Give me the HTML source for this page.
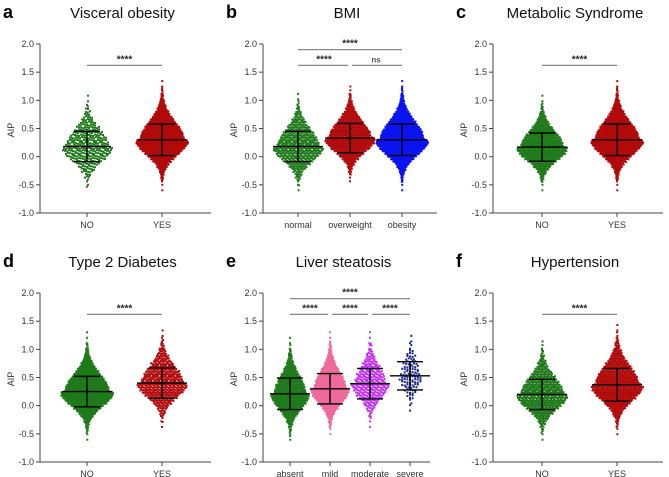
<!DOCTYPE html>
<html><head><meta charset="utf-8"><style>
body{margin:0;background:#fff;}
svg{display:block;font-family:"Liberation Sans",sans-serif;}
</style></head><body>
<svg id="fig" width="669" height="477" viewBox="0 0 669 477" xmlns="http://www.w3.org/2000/svg"></svg>
<script>
// ---- data (per panel) ----
const panelLetters = ["a","b","c","d","e","f"];
const panelTitles = ["Visceral obesity","BMI","Metabolic Syndrome","Type 2 Diabetes","Liver steatosis","Hypertension"];
const categoriesA = ["NO","YES"], meansA = [0.18,0.30], sdsA = [0.27,0.28], countsA = [350,1400];
const categoriesB = ["normal","overweight","obesity"], meansB = [0.18,0.33,0.30], sdsB = [0.27,0.26,0.28], countsB = [600,900,1500];
const categoriesC = ["NO","YES"], meansC = [0.17,0.30], sdsC = [0.25,0.28], countsC = [900,1400];
const categoriesD = ["NO","YES"], meansD = [0.25,0.40], sdsD = [0.27,0.27], countsD = [1400,600];
const categoriesE = ["absent","mild","moderate","severe"], meansE = [0.21,0.30,0.39,0.53], sdsE = [0.28,0.27,0.27,0.25], countsE = [800,900,350,110];
const categoriesF = ["NO","YES"], meansF = [0.20,0.37], sdsF = [0.27,0.29], countsF = [700,1000];
const yTicks = [2.0,1.5,1.0,0.5,0.0,-0.5,-1.0];
const yTickLabels = ["2.0","1.5","1.0","0.5","0.0","-0.5","-1.0"];
// significance: [from, to, value, label]
const sigA = [[0,1,1.62,"****"]];
const sigB = [[0,2,1.9,"****"],[0,1,1.62,"****"],[1,2,1.62,"ns"]];
const sigE = [[0,3,1.9,"****"],[0,1,1.62,"****"],[1,2,1.62,"****"],[2,3,1.62,"****"]];

const green="#1f7a1a", red="#b20a0a", blue="#0a14f0", pink="#ee6a9a", mag="#c433f0", navy="#1c2a8c";
const panels = [
 {ox:40,oy:44,len:171,pos:[47,122],cats:categoriesA,m:meansA,s:sdsA,n:countsA,col:[green,red],sig:sigA,hw:[25,26],mw:24},
 {ox:263,oy:44,len:174,pos:[35,87,139],cats:categoriesB,m:meansB,s:sdsB,n:countsB,col:[green,red,blue],sig:sigB,hw:[25,25,26],mw:25},
 {ox:493,oy:44,len:170,pos:[49,124],cats:categoriesC,m:meansC,s:sdsC,n:countsC,col:[green,red],sig:sigA,hw:[25,26],mw:25},
 {ox:40,oy:293,len:171,pos:[47,122],cats:categoriesD,m:meansD,s:sdsD,n:countsD,col:[green,red],sig:sigA,hw:[26,25],mw:25},
 {ox:263,oy:293,len:167,pos:[27,67,107,147],cats:categoriesE,m:meansE,s:sdsE,n:countsE,col:[green,pink,mag,navy],sig:sigE,hw:[19,19,19,15],mw:20},
 {ox:493,oy:293,len:170,pos:[49,124],cats:categoriesF,m:meansF,s:sdsF,n:countsF,col:[green,red],sig:sigA,hw:[25,26],mw:25}
];
const NS="http://www.w3.org/2000/svg";
const svg=document.getElementById("fig");
function mk(tag,attrs,parent){const e=document.createElementNS(NS,tag);for(const k in attrs)e.setAttribute(k,attrs[k]);(parent||svg).appendChild(e);return e;}
function invNorm(p){const a=[-39.6968302866538,220.946098424521,-275.928510446969,138.357751867269,-30.6647980661472,2.50662827745924],b=[-54.4760987982241,161.585836858041,-155.698979859887,66.8013118877197,-13.2806815528857],c=[-0.00778489400243029,-0.322396458041136,-2.40075827716184,-2.54973253934373,4.37466414146497,2.93816398269878],d=[0.00778469570904146,0.32246712907004,2.445134137143,3.75440866190742];let q,r;if(p<0.02425){q=Math.sqrt(-2*Math.log(p));return(((((c[0]*q+c[1])*q+c[2])*q+c[3])*q+c[4])*q+c[5])/((((d[0]*q+d[1])*q+d[2])*q+d[3])*q+1);}if(p>1-0.02425){q=Math.sqrt(-2*Math.log(1-p));return-(((((c[0]*q+c[1])*q+c[2])*q+c[3])*q+c[4])*q+c[5])/((((d[0]*q+d[1])*q+d[2])*q+d[3])*q+1);}q=p-0.5;r=q*q;return(((((a[0]*r+a[1])*r+a[2])*r+a[3])*r+a[4])*r+a[5])*q/(((((b[0]*r+b[1])*r+b[2])*r+b[3])*r+b[4])*r+1);}

panels.forEach((P,pi)=>{
 const g=mk("g",{});
 
 
 const H=169, yS=v=>P.oy+(2-v)*H/3, xS=i=>P.ox+P.pos[i];
 const cx=P.ox+P.len/2;
 const L=mk("text",{x:P.ox-37,y:P.oy-26,"font-size":18,"font-weight":"bold",fill:"#000"},g);L.textContent=panelLetters[pi];
 
 
 const T=mk("text",{x:cx-3,y:P.oy-26,"font-size":15,"text-anchor":"middle",fill:"#111"},g);T.textContent=panelTitles[pi];
 
 
 const Y=mk("text",{transform:`translate(${P.ox-26},${P.oy+86}) rotate(-90)`,"font-size":9,"text-anchor":"middle",fill:"#333"},g);Y.textContent="AIP";
 
 
 const ax=mk("path",{d:`M${P.ox},${P.oy}V${P.oy+H}H${P.ox+P.len}`,stroke:"#444",fill:"none","stroke-width":1},g);
 
 
 yTicks.forEach((v,i)=>{
  mk("line",{x1:P.ox-4,x2:P.ox,y1:yS(v),y2:yS(v),stroke:"#444"},g);
  const t=mk("text",{x:P.ox-6,y:yS(v)+3,"font-size":9,"text-anchor":"end",fill:"#333"},g);t.textContent=yTickLabels[i];
  
  
 });
 P.cats.forEach((c,i)=>{
  mk("line",{x1:xS(i),x2:xS(i),y1:P.oy+H,y2:P.oy+H+4,stroke:"#444"},g);
  const t=mk("text",{x:xS(i),y:P.oy+H+15,"font-size":9,"text-anchor":"middle",fill:"#333"},g);t.textContent=c;
  
  
 });
 P.cats.forEach((c,i)=>{
  const n=P.n[i],m=P.m[i],s=P.s[i];
  const bins={};
  for(let k=0;k<n;k++){const z=invNorm((k+0.5)/n);const v=m+s*z*(z>0?1.12:0.92);const y=yS(v);const b=Math.round(y/2.6);(bins[b]=bins[b]||[]).push(y);}
  let maxC=0;for(const b in bins)maxC=Math.max(maxC,bins[b].length);
  const sp=Math.min(2.6,2*P.hw[i]/maxC);
  const sg=mk("g",{fill:P.col[i]},g);
  
  
  for(const b in bins){const arr=bins[b];const cnt=arr.length;
   arr.forEach((y,j)=>{
    const off=(j-(cnt-1)/2)*sp+((b%2)?sp/2:0);
    const jit=(((j*37+b*11)%7)-3)*0.25;
    const yy=b*2.6+jit;
    mk("rect",{x:(xS(i)+off-1).toFixed(1),y:(yy-1).toFixed(1),width:2,height:2},sg);});}
  const eb=mk("g",{stroke:"#000","stroke-width":1.4},g);
  
  
  mk("line",{x1:xS(i),x2:xS(i),y1:yS(m+s),y2:yS(m-s)},eb);
  mk("line",{x1:xS(i)-P.mw,x2:xS(i)+P.mw,y1:yS(m),y2:yS(m)},eb);
  mk("line",{x1:xS(i)-13,x2:xS(i)+13,y1:yS(m+s),y2:yS(m+s)},eb);
  mk("line",{x1:xS(i)-13,x2:xS(i)+13,y1:yS(m-s),y2:yS(m-s)},eb);
 });
 P.sig.forEach(sx=>{
  const [a,b,v,lab]=sx;
  const shrink=(P.sig.length>1&&v<1.8)?2:0;
  const ln=mk("line",{x1:xS(a)+(a>0?shrink:0),x2:xS(b)-(b<P.cats.length-1?shrink:0),y1:yS(v),y2:yS(v),stroke:"#888","stroke-width":1.2},g);
  
  
  const t=mk("text",{x:(xS(a)+xS(b))/2,y:yS(v)-3,"font-size":lab=="ns"?8:10,"font-weight":"bold","text-anchor":"middle",fill:lab=="ns"?"#555":"#222"},g);
  t.textContent=lab;
  
  
 });
});
</script>
</body></html>
